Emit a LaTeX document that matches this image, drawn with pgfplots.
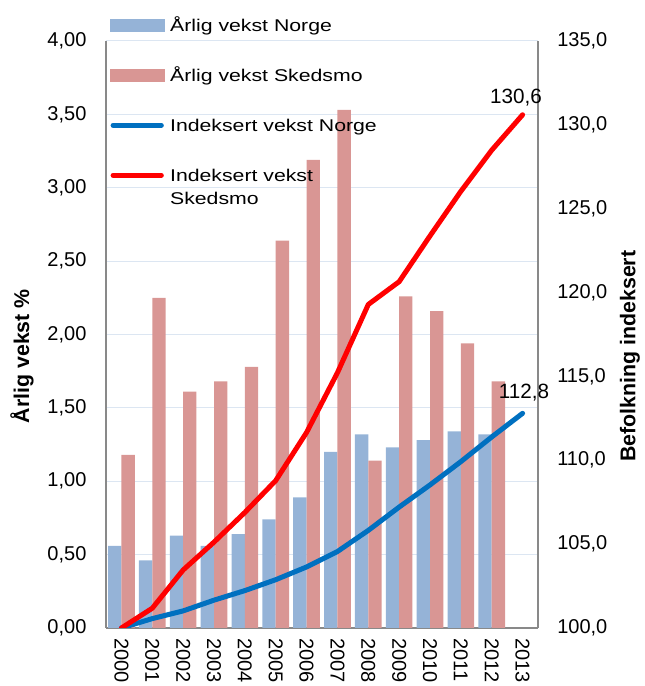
\documentclass[border=0pt]{standalone}
\usepackage{fontspec}
\setmainfont{Liberation Sans}
\newfontfamily\legfont[FakeStretch=1.25]{Liberation Sans}
\usepackage{pgfplots}
\pgfplotsset{compat=1.18}
\usetikzlibrary{calc}
\definecolor{barblue}{HTML}{95B3D7}
\definecolor{barred}{HTML}{D99694}
\definecolor{lineblue}{HTML}{0070C0}
\definecolor{linered}{HTML}{FF0000}
\definecolor{spine}{HTML}{898989}
\definecolor{gridc}{HTML}{DCE6F2}
\begin{document}
\begin{tikzpicture}
\begin{axis}[
  name=ax1,
  scale only axis, width=324pt, height=440.25pt,
  xmin=-0.5, xmax=13.5, ymin=0, ymax=4,
  axis x line*=bottom, axis y line*=left,
  axis line style={draw=spine, line width=1pt},
  xtick={0,1,2,3,4,5,6,7,8,9,10,11,12,13},
  xticklabels={2000,2001,2002,2003,2004,2005,2006,2007,2008,2009,2010,2011,2012,2013},
  ytick={0,0.5,1,1.5,2,2.5,3,3.5,4},
  major tick length=0pt,
  ymajorgrids, grid style={draw=gridc, line width=0.75pt},
  yticklabel style={font=\fontsize{15pt}{18pt}\selectfont, anchor=east, inner sep=0pt, xshift=-14.5pt,
    /pgf/number format/.cd, fixed, fixed zerofill, precision=2, use comma, assume math mode=true},
  xticklabel style={font=\fontsize{15pt}{18pt}\selectfont, yshift=-7.5pt, rotate=-90, anchor=west, inner sep=0pt},
  ylabel={Årlig vekst \%},
  ylabel style={font=\bfseries\fontsize{16pt}{19pt}\selectfont, at={(axis description cs:-0.1944,0.463)}, anchor=center},
  ybar, bar width=10pt,
]
\addplot[fill=barblue, draw=none, bar shift=-5pt] coordinates {
  (0,0.56) (1,0.46) (2,0.63) (3,0.56) (4,0.64) (5,0.74) (6,0.89)
  (7,1.20) (8,1.32) (9,1.23) (10,1.28) (11,1.34) (12,1.32)};
\addplot[fill=barred, draw=none, bar shift=5pt] coordinates {
  (0,1.18) (1,2.25) (2,1.61) (3,1.68) (4,1.78) (5,2.64) (6,3.19)
  (7,3.53) (8,1.14) (9,2.26) (10,2.16) (11,1.94) (12,1.68)};
\end{axis}
\begin{axis}[
  scale only axis, width=324pt, height=440.25pt,
  xmin=-0.5, xmax=13.5, ymin=100, ymax=135,
  axis x line=none, axis y line*=right,
  axis line style={draw=spine, line width=1pt},
  ytick={100,105,110,115,120,125,130,135},
  major tick length=0pt,
  yticklabel style={font=\fontsize{15pt}{18pt}\selectfont, anchor=west, inner sep=0pt, xshift=14.25pt,
    /pgf/number format/.cd, fixed, fixed zerofill, precision=1, use comma, assume math mode=true},
  ylabel={Befolkning indeksert},
  ylabel style={font=\bfseries\fontsize{16pt}{19pt}\selectfont, at={(axis description cs:1.213,0.463)}, anchor=center},
  legend cell align=left,
  legend style={at={(0,1)}, anchor=north west, xshift=3pt, yshift=18.5pt,
    draw=none, fill=none, inner sep=0pt, row sep=24.5pt, column sep=4.5pt,
    font=\legfont\fontsize{12.75pt}{17.25pt}\selectfont,
    nodes={inner sep=0pt, text height=11pt, text depth=2pt}},
]
\addlegendimage{legend image code/.code={\fill[barblue] (0pt,-4.5pt) rectangle (40pt,4.5pt);}}
\addlegendentry{Årlig vekst Norge}
\addlegendimage{legend image code/.code={\fill[barred] (0pt,-4.5pt) rectangle (40pt,4.5pt);}}
\addlegendentry{Årlig vekst Skedsmo}
\addlegendimage{legend image code/.code={\draw[lineblue, line width=3.75pt, line cap=round] (1.9pt,0pt) -- (38.1pt,0pt);}}
\addlegendentry{Indeksert vekst Norge}
\addlegendimage{legend image code/.code={\draw[linered, line width=3.75pt, line cap=round] (1.9pt,0pt) -- (38.1pt,0pt);}}
\addlegendentry{\begin{tabular}[t]{@{}l@{}}Indeksert vekst\\Skedsmo\end{tabular}}
\addplot[lineblue, line width=3.75pt, line join=round, line cap=round, mark=none, forget plot] coordinates {
  (0,100) (1,100.56) (2,101.02) (3,101.66) (4,102.23) (5,102.88) (6,103.64)
  (7,104.56) (8,105.82) (9,107.21) (10,108.53) (11,109.92) (12,111.39) (13,112.8)};
\addplot[linered, line width=3.75pt, line join=round, line cap=round, mark=none, forget plot] coordinates {
  (0,100) (1,101.18) (2,103.46) (3,105.12) (4,106.89) (5,108.79) (6,111.66)
  (7,115.22) (8,119.29) (9,120.65) (10,123.38) (11,126.04) (12,128.49) (13,130.6)};
\addplot[draw=none, mark=none, forget plot, point meta=y,
  nodes near coords={\pgfmathprintnumber[fixed,precision=1,use comma,assume math mode=true]{\pgfplotspointmeta}},
  every node near coord/.append style={font=\fontsize{15.5pt}{18pt}\selectfont, anchor=center, yshift=12.75pt, xshift=-5pt, text=black}]
  coordinates {(13,130.6)};
\addplot[draw=none, mark=none, forget plot, point meta=y,
  nodes near coords={\pgfmathprintnumber[fixed,precision=1,use comma,assume math mode=true]{\pgfplotspointmeta}},
  every node near coord/.append style={font=\fontsize{15.5pt}{18pt}\selectfont, anchor=center, yshift=15.5pt, xshift=1pt, text=black}]
  coordinates {(13,112.8)};
\end{axis}
\pgfresetboundingbox
\path[use as bounding box] ($(ax1.south west)+(-79.5pt,-43.5pt)$) rectangle ($(ax1.north east)+(79.5pt,30.75pt)$);
\end{tikzpicture}
\end{document}
